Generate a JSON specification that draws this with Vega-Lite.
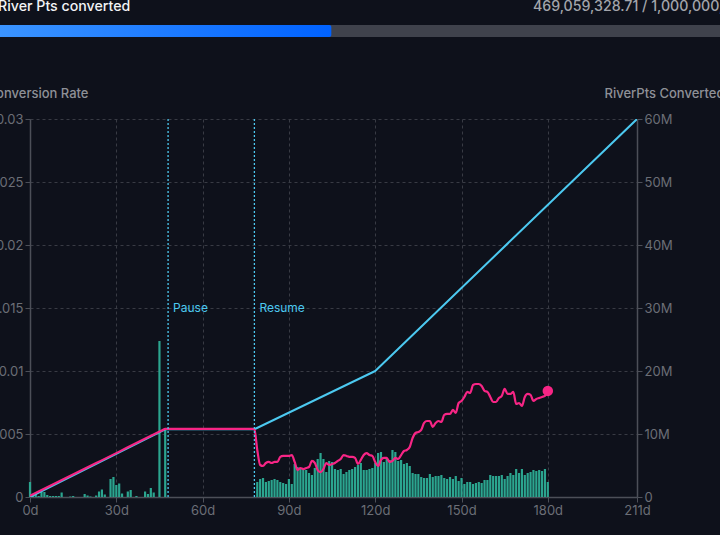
{
  "$schema": "https://vega.github.io/schema/vega-lite/v6.json",
  "description": "River Pts conversion",
  "width": 607,
  "height": 378,
  "autosize": "none",
  "padding": {"left": 30, "top": 119, "right": 83, "bottom": 38},
  "background": "#0e111b",
  "config": {
    "view": {"stroke": null},
    "font": "Inter",
    "axis": {
      "domainColor": "#4c4f58",
      "domainWidth": 1.5,
      "tickColor": "#4c4f58",
      "tickSize": 5,
      "labelColor": "#6b6e76",
      "labelFont": "Inter",
      "labelFontSize": 13,
      "labelFlush": false,
      "labelOverlap": false,
      "gridColor": "#383b44",
      "gridDash": [3, 3],
      "titleFont": "Inter",
      "titleFontSize": 13,
      "titleFontWeight": 500,
      "titleColor": "#8e9097"
    }
  },
  "datasets": {
    "daily": [
      {"day": 0, "k": 150}, {"day": 1, "k": 30}, {"day": 2, "k": 40}, {"day": 3, "k": 10}, {"day": 4, "k": 50},
      {"day": 5, "k": 50}, {"day": 6, "k": 20}, {"day": 7, "k": 10}, {"day": 8, "k": 10}, {"day": 9, "k": 10},
      {"day": 10, "k": 10}, {"day": 11, "k": 45}, {"day": 14, "k": 5}, {"day": 15, "k": 10}, {"day": 19, "k": 30},
      {"day": 20, "k": 15}, {"day": 21, "k": 5}, {"day": 23, "k": 15}, {"day": 24, "k": 55}, {"day": 25, "k": 75},
      {"day": 26, "k": 25}, {"day": 28, "k": 180}, {"day": 29, "k": 200}, {"day": 30, "k": 120}, {"day": 31, "k": 135},
      {"day": 32, "k": 35}, {"day": 34, "k": 55}, {"day": 35, "k": 70}, {"day": 37, "k": 10}, {"day": 40, "k": 55},
      {"day": 41, "k": 30}, {"day": 42, "k": 90}, {"day": 43, "k": 45}, {"day": 45, "k": 1560}, {"day": 47, "k": 680},
      {"day": 79, "k": 150}, {"day": 80, "k": 180}, {"day": 81, "k": 190}, {"day": 82, "k": 150}, {"day": 83, "k": 160},
      {"day": 84, "k": 170}, {"day": 85, "k": 180}, {"day": 86, "k": 170}, {"day": 87, "k": 150}, {"day": 88, "k": 140},
      {"day": 89, "k": 130}, {"day": 90, "k": 180}, {"day": 91, "k": 130}, {"day": 92, "k": 330}, {"day": 93, "k": 300},
      {"day": 94, "k": 290}, {"day": 95, "k": 290}, {"day": 96, "k": 270}, {"day": 97, "k": 240}, {"day": 98, "k": 220},
      {"day": 99, "k": 290}, {"day": 100, "k": 380}, {"day": 101, "k": 440}, {"day": 102, "k": 380}, {"day": 103, "k": 250},
      {"day": 104, "k": 360}, {"day": 105, "k": 350}, {"day": 106, "k": 280}, {"day": 107, "k": 270}, {"day": 108, "k": 280},
      {"day": 109, "k": 230}, {"day": 110, "k": 250}, {"day": 111, "k": 270}, {"day": 112, "k": 280}, {"day": 113, "k": 300},
      {"day": 114, "k": 320}, {"day": 115, "k": 340}, {"day": 116, "k": 270}, {"day": 117, "k": 270}, {"day": 118, "k": 280},
      {"day": 119, "k": 290}, {"day": 120, "k": 340}, {"day": 121, "k": 440}, {"day": 122, "k": 450}, {"day": 123, "k": 350},
      {"day": 124, "k": 390}, {"day": 125, "k": 370}, {"day": 126, "k": 470}, {"day": 127, "k": 450}, {"day": 128, "k": 360},
      {"day": 129, "k": 370}, {"day": 130, "k": 330}, {"day": 131, "k": 340}, {"day": 132, "k": 310}, {"day": 133, "k": 240},
      {"day": 134, "k": 230}, {"day": 135, "k": 230}, {"day": 136, "k": 200}, {"day": 137, "k": 190}, {"day": 138, "k": 190},
      {"day": 139, "k": 230}, {"day": 140, "k": 200}, {"day": 141, "k": 210}, {"day": 142, "k": 210}, {"day": 143, "k": 220},
      {"day": 144, "k": 190}, {"day": 145, "k": 180}, {"day": 146, "k": 200}, {"day": 147, "k": 180}, {"day": 148, "k": 210},
      {"day": 149, "k": 160}, {"day": 150, "k": 190}, {"day": 151, "k": 130}, {"day": 152, "k": 150}, {"day": 153, "k": 150},
      {"day": 154, "k": 130}, {"day": 155, "k": 140}, {"day": 156, "k": 150}, {"day": 157, "k": 140}, {"day": 158, "k": 170},
      {"day": 159, "k": 170}, {"day": 160, "k": 220}, {"day": 161, "k": 210}, {"day": 162, "k": 210}, {"day": 163, "k": 210},
      {"day": 164, "k": 220}, {"day": 165, "k": 180}, {"day": 166, "k": 210}, {"day": 167, "k": 240}, {"day": 168, "k": 220},
      {"day": 169, "k": 280}, {"day": 170, "k": 240}, {"day": 171, "k": 280}, {"day": 172, "k": 220}, {"day": 173, "k": 240},
      {"day": 174, "k": 250}, {"day": 175, "k": 270}, {"day": 176, "k": 260}, {"day": 177, "k": 270}, {"day": 178, "k": 260},
      {"day": 179, "k": 280}, {"day": 180, "k": 150}
    ],
    "rate": [
      {"day": 0, "rate": 0.0001}, {"day": 23, "rate": 0.00269}, {"day": 46, "rate": 0.00529}, {"day": 47, "rate": 0.0054}, {"day": 48, "rate": 0.0054}, {"day": 77, "rate": 0.0054}, {"day": 78, "rate": 0.0054}, {"day": 79, "rate": 0.00373},
      {"day": 80, "rate": 0.00254}, {"day": 81, "rate": 0.00246}, {"day": 82, "rate": 0.0027}, {"day": 83, "rate": 0.00278},
      {"day": 84, "rate": 0.0027}, {"day": 85, "rate": 0.00278}, {"day": 86, "rate": 0.00278}, {"day": 87, "rate": 0.00318},
      {"day": 88, "rate": 0.00326}, {"day": 89, "rate": 0.00326}, {"day": 90, "rate": 0.00326}, {"day": 91, "rate": 0.00333},
      {"day": 92, "rate": 0.00278}, {"day": 93, "rate": 0.00214}, {"day": 94, "rate": 0.0023}, {"day": 95, "rate": 0.00222},
      {"day": 96, "rate": 0.0023}, {"day": 97, "rate": 0.00238}, {"day": 98, "rate": 0.00286}, {"day": 99, "rate": 0.0027},
      {"day": 100, "rate": 0.00214}, {"day": 101, "rate": 0.00198}, {"day": 102, "rate": 0.00222}, {"day": 103, "rate": 0.0027},
      {"day": 104, "rate": 0.00254}, {"day": 105, "rate": 0.00262}, {"day": 106, "rate": 0.0027}, {"day": 107, "rate": 0.00286},
      {"day": 108, "rate": 0.00302}, {"day": 109, "rate": 0.00333}, {"day": 110, "rate": 0.00326}, {"day": 111, "rate": 0.00318},
      {"day": 112, "rate": 0.00318}, {"day": 113, "rate": 0.0031}, {"day": 114, "rate": 0.00262}, {"day": 115, "rate": 0.00294},
      {"day": 116, "rate": 0.00333}, {"day": 117, "rate": 0.00349}, {"day": 118, "rate": 0.00333}, {"day": 119, "rate": 0.00326},
      {"day": 120, "rate": 0.00278}, {"day": 121, "rate": 0.00246}, {"day": 122, "rate": 0.00294}, {"day": 123, "rate": 0.0031},
      {"day": 124, "rate": 0.0031}, {"day": 125, "rate": 0.00278}, {"day": 126, "rate": 0.00286}, {"day": 127, "rate": 0.0031},
      {"day": 128, "rate": 0.00302}, {"day": 129, "rate": 0.00333}, {"day": 130, "rate": 0.00365}, {"day": 131, "rate": 0.00373},
      {"day": 132, "rate": 0.00397}, {"day": 133, "rate": 0.00468}, {"day": 134, "rate": 0.00508}, {"day": 135, "rate": 0.00516},
      {"day": 136, "rate": 0.00532}, {"day": 137, "rate": 0.00588}, {"day": 138, "rate": 0.00603}, {"day": 139, "rate": 0.00603},
      {"day": 140, "rate": 0.00556}, {"day": 141, "rate": 0.00588}, {"day": 142, "rate": 0.00603}, {"day": 143, "rate": 0.00596},
      {"day": 144, "rate": 0.00651}, {"day": 145, "rate": 0.00659}, {"day": 146, "rate": 0.00659}, {"day": 147, "rate": 0.00691},
      {"day": 148, "rate": 0.00667}, {"day": 149, "rate": 0.00746}, {"day": 150, "rate": 0.00762}, {"day": 151, "rate": 0.00794},
      {"day": 152, "rate": 0.00834}, {"day": 153, "rate": 0.00826}, {"day": 154, "rate": 0.00889}, {"day": 155, "rate": 0.00897},
      {"day": 156, "rate": 0.00897}, {"day": 157, "rate": 0.00881}, {"day": 158, "rate": 0.00842}, {"day": 159, "rate": 0.00834},
      {"day": 160, "rate": 0.00794}, {"day": 161, "rate": 0.00754}, {"day": 162, "rate": 0.00754}, {"day": 163, "rate": 0.00786},
      {"day": 164, "rate": 0.00802}, {"day": 165, "rate": 0.00858}, {"day": 166, "rate": 0.00818}, {"day": 167, "rate": 0.00818},
      {"day": 168, "rate": 0.00834}, {"day": 169, "rate": 0.00738}, {"day": 170, "rate": 0.00746}, {"day": 171, "rate": 0.00723},
      {"day": 172, "rate": 0.00794}, {"day": 173, "rate": 0.00818}, {"day": 174, "rate": 0.0081}, {"day": 175, "rate": 0.00762},
      {"day": 176, "rate": 0.00778}, {"day": 177, "rate": 0.00786}, {"day": 178, "rate": 0.00794}, {"day": 179, "rate": 0.00802},
      {"day": 180, "rate": 0.00842}
    ],
    "latest": [{"day": 180, "rate": 0.00842}],
    "cumulative": [
      {"day": 0, "converted": 0}, {"day": 47, "converted": 10750000}, {"day": 78, "converted": 10750000},
      {"day": 120, "converted": 20000000}, {"day": 211, "converted": 60000000}
    ],
    "events": [{"day": 48, "label": "Pause"}, {"day": 78, "label": "Resume"}],
    "progress": [{"start": 0, "done": 469059328.71, "cap": 1000000000}],
    "header": [{"left": "River Pts converted", "right": "469,059,328.71 / 1,000,000,000.00"}]
  },
  "layer": [
    {
      "data": {"name": "daily"},
      "mark": {"type": "bar", "color": "#2ba58f", "size": 2.2},
      "encoding": {
        "x": {
          "field": "day",
          "type": "quantitative",
          "scale": {"domain": [0, 211], "padding": 0, "nice": false},
          "title": null,
          "axis": {
            "values": [0, 30, 60, 90, 120, 150, 180, 211],
            "labelExpr": "datum.value + 'd'",
            "labelPadding": 2,
            "grid": true
          }
        },
        "y": {"field": "k", "type": "quantitative", "scale": {"domain": [0, 3780]}, "axis": null}
      }
    },
    {
      "data": {"name": "cumulative"},
      "mark": {"type": "line", "color": "#4cc9f0", "strokeWidth": 2, "strokeJoin": "round", "clip": true},
      "encoding": {
        "x": {"field": "day", "type": "quantitative", "scale": {"domain": [0, 211]}, "axis": null},
        "y": {
          "field": "converted",
          "type": "quantitative",
          "scale": {"domain": [0, 60000000]},
          "title": "RiverPts Converted",
          "axis": {
            "orient": "right",
            "values": [0, 10000000, 20000000, 30000000, 40000000, 50000000, 60000000],
            "labelExpr": "datum.value === 0 ? '0' : (datum.value / 1000000) + 'M'",
            "grid": false,
            "titleAngle": 0,
            "titleAlign": "left",
            "titleBaseline": "middle",
            "titleX": -33,
            "titleY": -26
          }
        }
      }
    },
    {
      "data": {"name": "rate"},
      "mark": {"type": "line", "color": "#f72585", "strokeWidth": 2.2, "strokeJoin": "round", "interpolate": "monotone"},
      "encoding": {
        "x": {"field": "day", "type": "quantitative", "scale": {"domain": [0, 211]}, "axis": null},
        "y": {
          "field": "rate",
          "type": "quantitative",
          "scale": {"domain": [0, 0.03]},
          "title": "Conversion Rate",
          "axis": {
            "orient": "left",
            "values": [0, 0.005, 0.01, 0.015, 0.02, 0.025, 0.03],
            "format": "~g",
            "grid": true,
            "titleAngle": 0,
            "titleAlign": "right",
            "titleBaseline": "middle",
            "titleX": 58,
            "titleY": -26
          }
        }
      }
    },
    {
      "data": {"name": "latest"},
      "mark": {"type": "circle", "color": "#f72585", "size": 110, "opacity": 1},
      "encoding": {
        "x": {"field": "day", "type": "quantitative", "scale": {"domain": [0, 211]}, "axis": null},
        "y": {"field": "rate", "type": "quantitative", "scale": {"domain": [0, 0.03]}, "axis": null}
      }
    },
    {
      "data": {"name": "events"},
      "mark": {"type": "rule", "color": "#4cc9f0", "strokeWidth": 1.3, "strokeDash": [2, 2]},
      "encoding": {
        "x": {"field": "day", "type": "quantitative", "scale": {"domain": [0, 211]}, "axis": null}
      }
    },
    {
      "data": {"name": "events"},
      "mark": {"type": "text", "color": "#4cc9f0", "align": "left", "dx": 5, "fontSize": 12, "font": "Inter"},
      "encoding": {
        "x": {"field": "day", "type": "quantitative", "scale": {"domain": [0, 211]}, "axis": null},
        "y": {"datum": 0.015, "type": "quantitative", "scale": {"domain": [0, 0.03]}, "axis": null},
        "text": {"field": "label"}
      }
    },
    {
      "data": {"name": "progress"},
      "mark": {"type": "rect", "color": "#3f424c"},
      "encoding": {
        "x": {"field": "start", "type": "quantitative", "scale": {"domain": [58100000, 886000000]}, "axis": null},
        "x2": {"field": "cap"},
        "y": {"datum": 472, "type": "quantitative", "scale": {"domain": [0, 378]}, "axis": null},
        "y2": {"datum": 460}
      }
    },
    {
      "data": {"name": "progress"},
      "mark": {
        "type": "rect",
        "cornerRadiusTopRight": 2,
        "cornerRadiusBottomRight": 2,
        "color": {
          "gradient": "linear",
          "x1": 0,
          "y1": 0,
          "x2": 1,
          "y2": 0,
          "stops": [{"offset": 0, "color": "#3d96ff"}, {"offset": 1, "color": "#0062ff"}]
        }
      },
      "encoding": {
        "x": {"field": "start", "type": "quantitative", "scale": {"domain": [58100000, 886000000]}, "axis": null},
        "x2": {"field": "done"},
        "y": {"datum": 472, "type": "quantitative", "scale": {"domain": [0, 378]}, "axis": null},
        "y2": {"datum": 460}
      }
    },
    {
      "data": {"name": "header"},
      "mark": {"type": "text", "color": "#f2f3f5", "align": "left", "fontSize": 14.2, "fontWeight": 500, "font": "Inter"},
      "encoding": {
        "x": {"datum": 14500000, "type": "quantitative", "scale": {"domain": [58100000, 886000000]}, "axis": null},
        "y": {"datum": 490, "type": "quantitative", "scale": {"domain": [0, 378]}, "axis": null},
        "text": {"field": "left"}
      }
    },
    {
      "data": {"name": "header"},
      "mark": {"type": "text", "color": "#a3a5ab", "align": "left", "fontSize": 14.2, "fontWeight": 500, "font": "Inter"},
      "encoding": {
        "x": {"datum": 744000000, "type": "quantitative", "scale": {"domain": [58100000, 886000000]}, "axis": null},
        "y": {"datum": 490, "type": "quantitative", "scale": {"domain": [0, 378]}, "axis": null},
        "text": {"field": "right"}
      }
    }
  ],
  "resolve": {"scale": {"x": "independent", "y": "independent"}}
}
